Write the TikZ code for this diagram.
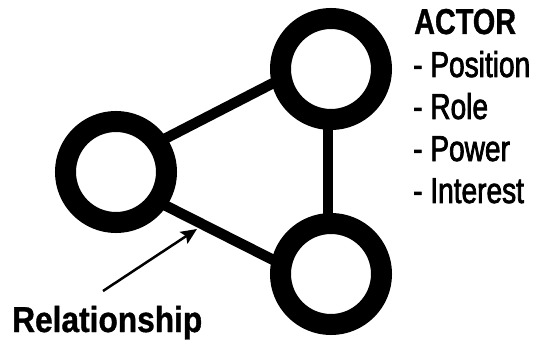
\documentclass[tikz,border=0pt]{standalone}
\usepackage{fontspec}
\setmainfont{Liberation Sans}[FakeStretch=0.8]
\newfontfamily\itemfont{Liberation Sans}[FakeStretch=0.78,FakeBold=2]
\newfontfamily\headfont{Liberation Sans}[FakeStretch=0.8,BoldFeatures={FakeBold=1}]
\usetikzlibrary{arrows.meta,positioning,calc}

\begin{document}
\begin{tikzpicture}[x=1pt, y=-1pt, actor node/.style={circle,draw,line width=21pt,minimum size=101pt,inner sep=0pt}, link/.style={line width=10.5pt,shorten <=-4pt,shorten >=-4pt}, label text/.style={anchor=base west,inner sep=0pt,font=\itemfont\fontsize{36}{42}\selectfont}, head text/.style={label text,font=\headfont\bfseries\fontsize{36}{42}\selectfont}]
\useasboundingbox (0,0) rectangle (542,345);
\node[actor node] (a1) at (331,69) {};
\node[actor node] (a2) at (116,172) {};
\node[actor node] (a3) at (331,274) {};
\draw[link] (a2.34) -- (a1.194);
\draw[link] (a2.-34) -- (a3.166);
\draw[link] (a1.-93) -- (a3.93);
\node[head text] (actor) at (414,34) {ACTOR};
\foreach \t [count=\i] in {Position,Role,Power,Interest}
  \node[label text] (p\i) at (413,35+42*\i) {- \t};
\node[head text,font=\headfont\bfseries\fontsize{36}{42}\selectfont\addfontfeature{FakeStretch=0.88}] (rel) at (12,332) {Relationship};
\coordinate (rtail) at (103,291);
\coordinate (rtip) at (197,229);
\draw[line width=2.5pt,-{Stealth[length=16pt,width=14pt,inset=3pt]}] (rtail) -- (rtip);
\end{tikzpicture}
\end{document}
